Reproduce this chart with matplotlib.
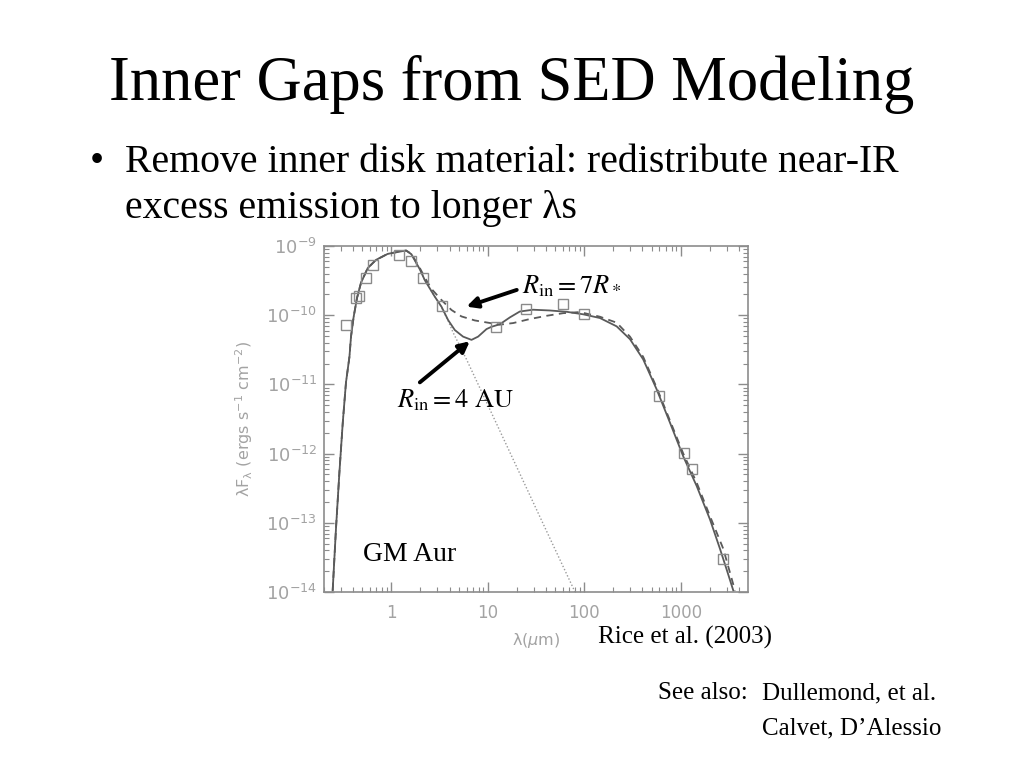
import matplotlib
matplotlib.use("Agg")
import matplotlib.pyplot as plt
from matplotlib.ticker import FixedLocator, FixedFormatter, LogLocator, NullFormatter

# ---- data ----
# model with inner hole of 4 AU (solid line)
lam_4au = [0.246, 0.266, 0.289, 0.313, 0.338, 0.367, 0.381, 0.406, 0.440, 0.484,
           0.568, 0.692, 0.916, 1.16, 1.42, 1.61, 1.97, 2.22, 2.81, 3.30,
           3.87, 4.54, 5.53, 6.76, 7.91, 9.67, 10.9, 13.3, 16.9, 21.4,
           29.4, 43.9, 65.4, 97.2, 145, 216, 297, 407, 561, 771,
           1059, 1459, 2003, 2545, 2988, 3497]
flux_4au = [1.05e-14, 8.1e-14, 5.4e-13, 2.8e-12, 1.07e-11, 2.5e-11, 4.9e-11, 9.5e-11, 1.78e-10, 2.95e-10,
            4.8e-10, 6.3e-10, 7.7e-10, 8.2e-10, 8.6e-10, 7.6e-10, 4.6e-10, 3.2e-10, 1.86e-10, 1.33e-10,
            8.5e-11, 6.1e-11, 4.9e-11, 4.4e-11, 4.9e-11, 6.3e-11, 6.8e-11, 7.4e-11, 9.3e-11, 1.13e-10,
            1.20e-10, 1.17e-10, 1.12e-10, 1.03e-10, 9.1e-11, 6.9e-11, 4.5e-11, 2.3e-11, 8.5e-12, 2.8e-12,
            9.1e-13, 3.4e-13, 1.12e-13, 4.2e-14, 2.1e-14, 1.05e-14]

# model with inner hole of 7 R* (dashed line)
lam_7rs = [0.246, 0.266, 0.289, 0.313, 0.338, 0.367, 0.381, 0.406, 0.440, 0.484,
           0.568, 0.692, 0.916, 1.16, 1.42, 1.61, 1.97, 2.22, 2.60, 3.30,
           4.19, 5.32, 7.31, 10.0, 13.3, 18.3, 27.2, 40.5, 60.3, 89.8,
           145, 216, 297, 407, 561, 771, 1059, 1459, 2003, 2754, 3640]
flux_7rs = [1.05e-14, 8.1e-14, 5.4e-13, 2.8e-12, 1.07e-11, 2.5e-11, 4.9e-11, 9.5e-11, 1.78e-10, 2.95e-10,
            4.8e-10, 6.3e-10, 7.7e-10, 8.2e-10, 8.6e-10, 7.7e-10, 4.8e-10, 3.5e-10, 2.4e-10, 1.66e-10,
            1.19e-10, 9.6e-11, 8.4e-11, 7.8e-11, 7.3e-11, 7.7e-11, 8.8e-11, 9.8e-11, 1.07e-10, 1.11e-10,
            9.5e-11, 7.8e-11, 4.9e-11, 2.5e-11, 9.0e-12, 3.0e-12, 1.0e-12, 3.8e-13, 1.25e-13, 4.2e-14, 1.05e-14]

# stellar photosphere (dotted line)
lam_star = [0.246, 0.266, 0.289, 0.313, 0.338, 0.367, 0.381, 0.406, 0.440, 0.484,
            0.568, 0.692, 0.916, 1.16, 1.42, 1.61, 1.97, 2.22, 2.81, 3.30,
            3.87, 4.36, 6.0, 10, 20, 40, 80]
flux_star = [1.05e-14, 8.1e-14, 5.4e-13, 2.8e-12, 1.07e-11, 2.5e-11, 4.9e-11, 9.5e-11, 1.78e-10, 2.95e-10,
             4.8e-10, 6.3e-10, 7.7e-10, 8.2e-10, 8.6e-10, 7.6e-10, 4.6e-10, 3.2e-10, 1.86e-10, 1.30e-10,
             8.3e-11, 5.6e-11, 2.3e-11, 5.0e-12, 6.3e-13, 7.9e-14, 1.0e-14]

# observed photometry (open squares)
obs_lam = [0.342, 0.43, 0.466, 0.543, 0.64, 1.2, 1.6, 2.13, 3.33, 12.1,
           24.9, 60, 99, 599, 1090, 1320, 2740]
obs_flux = [7.1e-11, 1.77e-10, 1.9e-10, 3.4e-10, 5.3e-10, 7.3e-10, 6.1e-10, 3.5e-10, 1.34e-10, 6.7e-11,
            1.22e-10, 1.46e-10, 1.04e-10, 6.8e-12, 1.02e-12, 6.0e-13, 3.0e-14]

x_ticks = [1, 10, 100, 1000]
x_tick_labels = ["1", "10", "100", "1000"]
y_ticks = [1e-14, 1e-13, 1e-12, 1e-11, 1e-10, 1e-9]
y_tick_labels = [r"$10^{-14}$", r"$10^{-13}$", r"$10^{-12}$", r"$10^{-11}$", r"$10^{-10}$", r"$10^{-9}$"]

title = "Inner Gaps from SED Modeling"
bullet_lines = ["Remove inner disk material: redistribute near-IR",
                "excess emission to longer \u03bbs"]

# ---- figure ----
GRAY = "#8c8c8c"
LGRAY = "#a3a3a3"
serif = "Liberation Serif"

fig = plt.figure(figsize=(10.24, 7.68), dpi=100)
fig.text(0.5, 1 - 100 / 768, title, ha="center", va="baseline", fontsize=45, family=serif)
fig.text(90 / 1024, 1 - 172 / 768, "\u2022", ha="left", va="baseline", fontsize=29, family=serif)
fig.text(125 / 1024, 1 - 172 / 768, bullet_lines[0], ha="left", va="baseline", fontsize=28.6, family=serif)
fig.text(125 / 1024, 1 - 218 / 768, bullet_lines[1], ha="left", va="baseline", fontsize=28.6, family=serif)

fig.text(598 / 1024, 1 - 644 / 768, "Rice et al. (2003)", ha="left", va="baseline", fontsize=18, family=serif)
fig.text(658 / 1024, 1 - 699 / 768, "See also:", ha="left", va="baseline", fontsize=18, family=serif)
fig.text(762 / 1024, 1 - 699 / 768, "Dullemond, et al.", ha="left", va="baseline", fontsize=18, family=serif)
fig.text(762 / 1024, 1 - 734 / 768, "Calvet, D\u2019Alessio", ha="left", va="baseline", fontsize=18, family=serif)

ax = fig.add_axes([324 / 1024, 1 - 592 / 768, (747.7 - 324) / 1024, (592 - 246) / 768])
ax.set_xscale("log")
ax.set_yscale("log")
ax.set_xlim(0.2, 4930)
ax.set_ylim(1e-14, 1e-9)

ax.plot(lam_star, flux_star, color="#9a9a9a", lw=1.0, ls=(0, (1, 1.5)))
ax.plot(lam_7rs, flux_7rs, color="#5a5a5a", lw=1.3, ls=(0, (4, 3)))
ax.plot(lam_4au, flux_4au, color="#5a5a5a", lw=1.3)
ax.plot(obs_lam, obs_flux, ls="none", marker="s", ms=7, mfc="none", mec="#8a8a8a", mew=1.0)

for s in ax.spines.values():
    s.set_color(GRAY)
    s.set_linewidth(1.2)
ax.xaxis.set_major_locator(FixedLocator(x_ticks))
ax.xaxis.set_major_formatter(FixedFormatter(x_tick_labels))
ax.xaxis.set_minor_locator(LogLocator(base=10, subs=range(2, 10), numticks=20))
ax.xaxis.set_minor_formatter(NullFormatter())
ax.yaxis.set_major_locator(FixedLocator(y_ticks))
ax.yaxis.set_major_formatter(FixedFormatter(y_tick_labels))
ax.yaxis.set_minor_locator(LogLocator(base=10, subs=range(2, 10), numticks=20))
ax.yaxis.set_minor_formatter(NullFormatter())
ax.tick_params(which="both", direction="in", top=True, right=True, color=GRAY, labelcolor=LGRAY)
ax.tick_params(which="major", length=7, width=1.0, labelsize=13)
ax.tick_params(which="minor", length=3.5, width=0.8)
ax.tick_params(axis="x", which="major", pad=9, labelsize=12)
ax.tick_params(axis="y", which="major", pad=5)

ax.set_xlabel("\u03bb($\\mu$m)", color=LGRAY, fontsize=11.5, labelpad=6)
ax.set_ylabel("\u03bbF$_{\\rm \u03bb}$ (ergs s$^{-1}$ cm$^{-2}$)", color=LGRAY, fontsize=11.5, labelpad=8)

# annotations
ax.text(22.5, 2.04e-10, r"$R_{\rm in} = 7R_*$", fontsize=19, math_fontfamily="stix", va="baseline")
ax.text(1.135, 4.7e-12, r"$R_{\rm in} = 4\ {\rm AU}$", fontsize=19, math_fontfamily="stix", va="baseline")
ax.text(0.504, 2.8e-14, "GM Aur", fontsize=20, family=serif, va="baseline")
arrow = dict(arrowstyle="-|>", lw=2.8, color="k", mutation_scale=16, shrinkA=0, shrinkB=0)
ax.annotate("", xy=(6.0, 1.33e-10), xytext=(19.9, 2.32e-10), arrowprops=arrow)
ax.annotate("", xy=(6.49, 4.2e-11), xytext=(1.97, 1.07e-11), arrowprops=arrow)

fig.savefig("out.png", dpi=100)
